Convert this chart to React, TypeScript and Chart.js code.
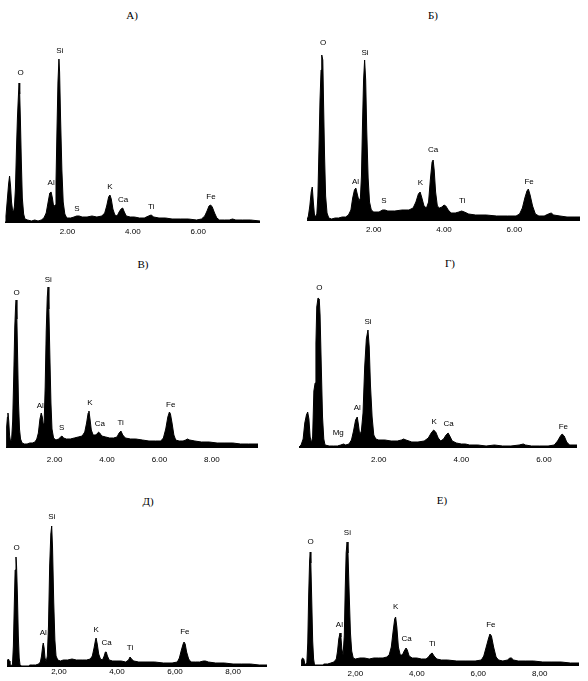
import React, { useEffect, useRef } from "react";
import { Chart, registerables } from "chart.js";

Chart.register(...registerables);

type Pt = [number, number];
type Lbl = [string, number, number];

// ---- Panel А ----
const spectrumA: Pt[] = [
  [0.09,0],[0.12,6],[0.16,22],[0.2,38],[0.23,46],[0.26,36],[0.29,20],[0.32,12],[0.35,10],[0.38,16],[0.41,34],[0.44,72],[0.47,104],[0.5,126],[0.52,139],[0.54,128],[0.56,104],[0.59,60],[0.62,24],[0.66,8],[0.7,3],[0.78,2],[0.9,1],[1.0,2],[1.1,1],[1.2,2],[1.28,4],[1.35,9],[1.41,20],[1.46,29],[1.5,30],[1.54,24],[1.58,15],[1.62,17],[1.65,40],[1.68,92],[1.71,140],[1.74,163],[1.76,150],[1.79,104],[1.83,52],[1.87,20],[1.92,8],[1.98,4],[2.1,4],[2.2,5],[2.28,6],[2.36,6],[2.45,5],[2.6,5],[2.75,6],[2.9,5],[3.05,6],[3.14,9],[3.2,16],[3.26,25],[3.3,27],[3.34,23],[3.39,13],[3.45,7],[3.52,6],[3.58,10],[3.64,13],[3.69,14],[3.74,10],[3.8,6],[3.92,5],[4.05,5],[4.2,4],[4.35,4],[4.48,6],[4.56,7],[4.64,5],[4.8,4],[5.0,4],[5.2,3],[5.45,3],[5.7,3],[5.95,2],[6.1,3],[6.2,6],[6.27,11],[6.33,16],[6.38,17],[6.43,15],[6.5,9],[6.57,4],[6.65,2],[6.8,2],[6.95,2],[7.05,3],[7.15,2],[7.35,2],[7.6,2],[7.89,1]
];
const labelsA: Lbl[] = [["O",0.57,149],["Si",1.77,171],["Al",1.5,39],["S",2.29,13],["K",3.3,35],["Ca",3.7,22],["Ti",4.56,15],["Fe",6.39,25]];
const ticksA = [2, 4, 6];
const tickTextA = ["2.00", "4.00", "6.00"];

// ---- Panel Б ----
const spectrumB: Pt[] = [
  [0.1,0],[0.14,4],[0.18,14],[0.22,28],[0.25,33],[0.28,18],[0.31,6],[0.34,3],[0.38,6],[0.41,24],[0.44,70],[0.47,120],[0.5,150],[0.52,165],[0.55,160],[0.57,120],[0.6,64],[0.63,24],[0.67,7],[0.72,2],[0.8,1],[0.9,2],[1.0,2],[1.1,3],[1.2,3],[1.28,5],[1.35,10],[1.4,22],[1.45,30],[1.49,32],[1.53,26],[1.58,19],[1.62,22],[1.65,44],[1.68,96],[1.71,140],[1.74,160],[1.77,140],[1.8,90],[1.84,42],[1.88,18],[1.93,10],[2.0,8],[2.15,8],[2.25,10],[2.32,10],[2.4,9],[2.6,9],[2.8,10],[3.0,10],[3.12,12],[3.2,18],[3.27,26],[3.32,28],[3.37,22],[3.43,14],[3.5,12],[3.56,18],[3.61,40],[3.66,58],[3.69,60],[3.72,50],[3.76,28],[3.81,14],[3.87,12],[3.94,13],[4.0,15],[4.05,14],[4.12,10],[4.2,7],[4.32,7],[4.42,8],[4.5,9],[4.58,8],[4.7,6],[4.9,5],[5.2,5],[5.5,4],[5.8,4],[6.05,4],[6.15,6],[6.23,12],[6.3,22],[6.36,29],[6.4,31],[6.45,25],[6.52,14],[6.6,6],[6.7,4],[6.85,4],[6.97,6],[7.05,7],[7.12,5],[7.3,4],[7.5,3],[7.7,3],[7.87,3]
];
const labelsB: Lbl[] = [["O",0.56,177],["Si",1.75,167],["Al",1.48,38],["S",2.29,19],["K",3.33,37],["Ca",3.69,70],["Ti",4.52,19],["Fe",6.42,38]];
const ticksB = [2, 4, 6];
const tickTextB = ["2.00", "4.00", "6.00"];

// ---- Panel В ----
const spectrumC: Pt[] = [
  [0.15,0],[0.17,20],[0.2,30],[0.22,34],[0.25,26],[0.28,12],[0.32,5],[0.36,8],[0.4,26],[0.44,70],[0.48,120],[0.51,140],[0.53,147],[0.56,128],[0.59,88],[0.62,46],[0.66,18],[0.7,8],[0.76,4],[0.85,3],[0.95,3],[1.05,4],[1.15,4],[1.25,5],[1.32,8],[1.38,14],[1.44,28],[1.49,34],[1.53,30],[1.57,22],[1.6,24],[1.64,60],[1.68,116],[1.72,150],[1.75,160],[1.78,138],[1.82,90],[1.86,44],[1.9,18],[1.96,9],[2.05,7],[2.15,8],[2.23,10],[2.28,11],[2.34,9],[2.45,8],[2.6,8],[2.75,9],[2.9,10],[3.05,11],[3.15,15],[3.22,24],[3.28,34],[3.31,36],[3.35,28],[3.4,17],[3.47,12],[3.55,12],[3.62,13],[3.68,15],[3.72,14],[3.8,11],[3.95,10],[4.1,9],[4.25,9],[4.38,10],[4.46,14],[4.53,16],[4.6,12],[4.7,9],[4.9,8],[5.1,8],[5.35,7],[5.6,6],[5.85,6],[6.05,6],[6.15,9],[6.24,18],[6.32,30],[6.38,35],[6.42,33],[6.48,24],[6.55,12],[6.62,7],[6.75,6],[6.9,6],[7.0,7],[7.07,8],[7.15,7],[7.35,6],[7.6,5],[7.9,5],[8.2,4],[8.5,4],[8.8,4],[9.1,3],[9.4,3],[9.76,3]
];
const labelsC: Lbl[] = [["O",0.55,154],["Si",1.76,167],["Al",1.45,41],["S",2.27,19],["K",3.35,44],["Ca",3.73,23],["Ti",4.52,24],["Fe",6.43,42]];
const ticksC = [2, 4, 6, 8];
const tickTextC = ["2.00", "4.00", "6.00", "8.00"];

// ---- Panel Г ----
const spectrumD: Pt[] = [
  [0.07,0],[0.12,2],[0.17,8],[0.21,24],[0.25,32],[0.28,35],[0.31,28],[0.34,10],[0.37,4],[0.4,10],[0.43,56],[0.46,64],[0.48,104],[0.5,140],[0.53,149],[0.56,148],[0.58,132],[0.61,80],[0.64,30],[0.67,8],[0.7,2],[0.8,1],[0.9,1],[1.0,1],[1.08,2],[1.15,3],[1.2,2],[1.28,3],[1.34,7],[1.39,16],[1.44,27],[1.48,30],[1.51,22],[1.54,12],[1.58,16],[1.62,34],[1.66,80],[1.7,108],[1.74,117],[1.77,100],[1.8,62],[1.84,30],[1.88,12],[1.93,8],[2.0,7],[2.15,7],[2.3,6],[2.45,6],[2.55,7],[2.6,8],[2.66,7],[2.8,5],[2.95,5],[3.1,6],[3.2,9],[3.27,14],[3.33,17],[3.38,15],[3.44,9],[3.5,6],[3.57,8],[3.63,12],[3.68,14],[3.72,11],[3.78,6],[3.88,4],[4.0,3],[4.1,3],[4.2,2],[4.4,2],[4.6,1],[4.8,2],[5.0,1],[5.2,1],[5.4,2],[5.5,3],[5.55,2],[5.7,1],[5.9,1],[6.1,1],[6.25,2],[6.33,6],[6.4,11],[6.44,13],[6.49,11],[6.55,5],[6.62,2],[6.8,2]
];
const labelsD: Lbl[] = [["O",0.56,159],["Si",1.74,125],["Al",1.48,39],["Mg",1.02,14],["K",3.34,25],["Ca",3.69,23],["Fe",6.47,20]];
const ticksD = [2, 4, 6];
const tickTextD = ["2.00", "4.00", "6.00"];

// ---- Panel Д ----
const spectrumE: Pt[] = [
  [0.21,0],[0.23,6],[0.26,7],[0.29,5],[0.31,1],[0.36,0],[0.4,2],[0.43,20],[0.46,60],[0.49,96],[0.52,109],[0.54,100],[0.57,70],[0.6,30],[0.63,8],[0.66,1],[0.68,0],[0.97,0],[0.99,1],[1.1,1],[1.2,1],[1.3,2],[1.36,4],[1.4,10],[1.44,20],[1.46,23],[1.49,18],[1.52,8],[1.56,4],[1.6,10],[1.64,40],[1.68,100],[1.72,132],[1.75,140],[1.78,118],[1.82,64],[1.86,26],[1.9,10],[1.96,6],[2.05,5],[2.15,6],[2.3,6],[2.45,7],[2.6,6],[2.8,6],[2.95,6],[3.08,7],[3.15,10],[3.21,18],[3.26,26],[3.28,28],[3.32,22],[3.37,12],[3.43,7],[3.5,6],[3.56,10],[3.6,14],[3.63,14],[3.67,10],[3.73,6],[3.85,5],[4.0,5],[4.15,5],[4.3,4],[4.4,6],[4.45,9],[4.5,7],[4.58,5],[4.75,4],[5.0,4],[5.3,4],[5.6,3],[5.9,3],[6.08,4],[6.15,8],[6.22,16],[6.28,22],[6.31,24],[6.35,22],[6.4,14],[6.47,7],[6.55,4],[6.7,4],[6.85,4],[6.98,5],[7.05,5],[7.15,4],[7.4,3],[7.7,3],[8.0,2],[8.3,2],[8.6,2],[8.9,1],[9.17,1]
];
const labelsE: Lbl[] = [["O",0.54,118],["Si",1.75,149],["Al",1.46,33],["K",3.28,36],["Ca",3.64,23],["Ti",4.45,18],["Fe",6.34,34]];
const ticksE = [2, 4, 6, 8];
const tickTextE = ["2,00", "4,00", "6,00", "8,00"];

// ---- Panel Е ----
const spectrumF: Pt[] = [
  [0.23,0],[0.25,5],[0.28,7],[0.32,6],[0.35,2],[0.38,0],[0.42,2],[0.45,22],[0.48,70],[0.51,104],[0.53,113],[0.55,102],[0.58,64],[0.61,24],[0.64,6],[0.67,0],[0.95,0],[0.97,1],[1.1,1],[1.2,2],[1.3,3],[1.38,6],[1.42,14],[1.46,26],[1.5,32],[1.53,28],[1.56,16],[1.6,10],[1.64,30],[1.67,76],[1.7,112],[1.73,123],[1.76,112],[1.8,70],[1.84,32],[1.88,14],[1.93,7],[2.0,6],[2.15,7],[2.3,7],[2.45,6],[2.6,7],[2.75,7],[2.9,7],[3.02,8],[3.1,10],[3.17,18],[3.23,34],[3.28,46],[3.31,48],[3.35,38],[3.4,18],[3.46,10],[3.53,10],[3.59,14],[3.65,17],[3.69,15],[3.75,9],[3.85,7],[4.0,7],[4.15,6],[4.3,6],[4.38,8],[4.45,11],[4.5,12],[4.56,9],[4.65,6],[4.8,5],[5.0,5],[5.3,4],[5.6,4],[5.9,4],[6.1,5],[6.18,9],[6.26,18],[6.33,26],[6.38,31],[6.43,29],[6.5,18],[6.58,8],[6.66,5],[6.8,4],[6.95,5],[7.03,7],[7.08,7],[7.15,5],[7.3,4],[7.55,4],[7.8,4],[8.1,3],[8.4,3],[8.7,3],[9.0,2],[9.28,2]
];
const labelsF: Lbl[] = [["O",0.54,123],["Si",1.74,132],["Al",1.48,40],["K",3.31,58],["Ca",3.67,26],["Ti",4.5,21],["Fe",6.41,40]];
const ticksF = [2, 4, 6, 8];
const tickTextF = ["2,00", "4,00", "6,00", "8,00"];

const AXIS_H = 20;

interface Panel {
  title: string;
  titleX: number;
  titleY: number;
  left: number;
  top: number;
  width: number;
  plotH: number;
  xMin: number;
  xMax: number;
  tickPad: number;
  spectrum: Pt[];
  labels: Lbl[];
  ticks: number[];
  tickText: string[];
}

const panels: Panel[] = [
  { title: "А)", titleX: 132, titleY: 15, left: 5, top: 34, width: 255, plotH: 188, xMin: 0.09, xMax: 7.89, tickPad: 5, spectrum: spectrumA, labels: labelsA, ticks: ticksA, tickText: tickTextA },
  { title: "Б)", titleX: 433, titleY: 15, left: 307, top: 34, width: 273, plotH: 186, xMin: 0.1, xMax: 7.87, tickPad: 5, spectrum: spectrumB, labels: labelsB, ticks: ticksB, tickText: tickTextB },
  { title: "В)", titleX: 143, titleY: 264, left: 6, top: 272, width: 252, plotH: 175, xMin: 0.145, xMax: 9.76, tickPad: 8, spectrum: spectrumC, labels: labelsC, ticks: ticksC, tickText: tickTextC },
  { title: "Г)", titleX: 450, titleY: 263, left: 299, top: 272, width: 278, plotH: 175, xMin: 0.07, xMax: 6.8, tickPad: 8, spectrum: spectrumD, labels: labelsD, ticks: ticksD, tickText: tickTextD },
  { title: "Д)", titleX: 148, titleY: 501, left: 7, top: 508, width: 260, plotH: 158, xMin: 0.21, xMax: 9.17, tickPad: 1, spectrum: spectrumE, labels: labelsE, ticks: ticksE, tickText: tickTextE },
  { title: "Е)", titleX: 442, titleY: 500, left: 301, top: 508, width: 278, plotH: 157, xMin: 0.23, xMax: 9.28, tickPad: 4, spectrum: spectrumF, labels: labelsF, ticks: ticksF, tickText: tickTextF },
];

const SANS = "'Liberation Sans', Arial, sans-serif";

function SpectrumChart({ p }: { p: Panel }) {
  const ref = useRef<HTMLCanvasElement>(null);
  useEffect(() => {
    if (!ref.current) return;
    const labelPlugin = {
      id: "peakLabels",
      afterDatasetsDraw(chart: any) {
        const { ctx, scales } = chart;
        ctx.save();
        ctx.font = `8px ${SANS}`;
        ctx.fillStyle = "#000";
        ctx.textAlign = "center";
        ctx.textBaseline = "middle";
        p.labels.forEach(([t, e, h]) => {
          ctx.fillText(t, scales.x.getPixelForValue(e), scales.y.getPixelForValue(h));
        });
        ctx.restore();
      },
    };
    const chart = new Chart(ref.current, {
      type: "line",
      data: {
        datasets: [
          {
            data: p.spectrum.map(([x, y]) => ({ x, y })),
            borderColor: "#000",
            backgroundColor: "#000",
            borderWidth: 1,
            fill: "origin",
            pointRadius: 0,
            tension: 0,
          },
        ],
      },
      options: {
        animation: false,
        responsive: false,
        events: [],
        layout: { padding: 0 },
        plugins: { legend: { display: false }, tooltip: { enabled: false }, title: { display: false } },
        scales: {
          x: {
            type: "linear",
            min: p.xMin,
            max: p.xMax,
            grid: { display: false, drawTicks: false },
            border: { display: true, color: "#000", width: 1 },
            afterBuildTicks: (s: any) => {
              s.ticks = p.ticks.map((v) => ({ value: v }));
            },
            afterFit: (s: any) => {
              s.height = AXIS_H;
            },
            ticks: {
              autoSkip: false,
              maxRotation: 0,
              padding: p.tickPad,
              color: "#000",
              font: { family: SANS, size: 8 },
              callback: (v: any) => {
                const i = p.ticks.indexOf(Number(v));
                return i >= 0 ? p.tickText[i] : "";
              },
            },
          },
          y: { display: false, min: 0, max: p.plotH },
        },
      },
      plugins: [labelPlugin],
    } as any);
    return () => chart.destroy();
  }, [p]);
  return (
    <canvas
      ref={ref}
      width={p.width}
      height={p.plotH + AXIS_H}
      style={{ position: "absolute", left: p.left, top: p.top, display: "block" }}
    />
  );
}

export default function App() {
  return (
    <div style={{ position: "absolute", left: 0, top: 0, width: 588, height: 681, background: "#fff", overflow: "hidden" }}>
      {panels.map((p) => (
        <React.Fragment key={p.title}>
          <div
            style={{
              position: "absolute",
              left: p.titleX - 20,
              top: p.titleY - 7,
              width: 40,
              height: 14,
              lineHeight: "14px",
              textAlign: "center",
              fontFamily: "'Liberation Serif', 'Times New Roman', serif",
              fontSize: 11,
              color: "#000",
            }}
          >
            {p.title}
          </div>
          <SpectrumChart p={p} />
        </React.Fragment>
      ))}
    </div>
  );
}
